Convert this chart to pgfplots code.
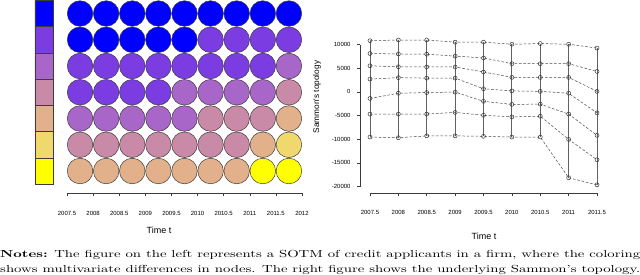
\documentclass[border=0pt]{standalone}
\usepackage{graphicx}
\usepackage{fontspec}
\usepackage{pgfplots}
\pgfplotsset{compat=1.18}
\newfontfamily\chartfont{Liberation Sans}
\definecolor{cA}{HTML}{0000FF}
\definecolor{cB}{HTML}{7B3CE2}
\definecolor{cC}{HTML}{A866C8}
\definecolor{cD}{HTML}{C98AA8}
\definecolor{cE}{HTML}{E2B08A}
\definecolor{cF}{HTML}{F0D86C}
\definecolor{cG}{HTML}{FFFF00}
\definecolor{edge}{HTML}{3C3C3C}
\begin{document}
\begin{tikzpicture}
\useasboundingbox (0,0) rectangle (640bp,-275bp);
% ---------------- left panel: SOTM ----------------
\begin{axis}[
  at={(67bp,-193bp)}, anchor=south west,
  scale only axis, width=235bp, height=192.6bp,
  xmin=2007.5, xmax=2012, ymin=0.162, ymax=7.5,
  clip=false,
  axis x line*=bottom, axis y line=none,
  axis line style={edge, line width=0.5pt},
  tick align=outside, major tick length=3bp,
  xtick={2007.5,2008,...,2012},
  xticklabels={2007.5,2008,2008.5,2009,2009.5,2010,2010.5,2011,2011.5,2012},
  xtick style={edge, line width=0.5pt},
  xticklabel style={font=\chartfont\fontsize{6}{7}\selectfont, anchor=center, yshift=-17bp},
  ytick=\empty,
]
% colour bar
\addplot[fill=cA, draw=edge, line width=0.5pt] coordinates {(2006.887,6.5)(2007.232,6.5)(2007.232,7.5)(2006.887,7.5)(2006.887,6.5)};
\addplot[fill=cB, draw=edge, line width=0.5pt] coordinates {(2006.887,5.5)(2007.232,5.5)(2007.232,6.5)(2006.887,6.5)(2006.887,5.5)};
\addplot[fill=cC, draw=edge, line width=0.5pt] coordinates {(2006.887,4.5)(2007.232,4.5)(2007.232,5.5)(2006.887,5.5)(2006.887,4.5)};
\addplot[fill=cD, draw=edge, line width=0.5pt] coordinates {(2006.887,3.5)(2007.232,3.5)(2007.232,4.5)(2006.887,4.5)(2006.887,3.5)};
\addplot[fill=cE, draw=edge, line width=0.5pt] coordinates {(2006.887,2.5)(2007.232,2.5)(2007.232,3.5)(2006.887,3.5)(2006.887,2.5)};
\addplot[fill=cF, draw=edge, line width=0.5pt] coordinates {(2006.887,1.5)(2007.232,1.5)(2007.232,2.5)(2006.887,2.5)(2006.887,1.5)};
\addplot[fill=cG, draw=edge, line width=0.5pt] coordinates {(2006.887,0.5)(2007.232,0.5)(2007.232,1.5)(2006.887,1.5)(2006.887,0.5)};
% nodes
\pgfplotsset{node/.style={only marks, mark=*, mark size=12.8bp, mark options={draw=edge, line width=0.5pt, fill=#1}}}
\addplot[node=cA] coordinates {
 (2007.75,7)(2008.25,7)(2008.75,7)(2009.25,7)(2009.75,7)(2010.25,7)(2010.75,7)(2011.25,7)(2011.75,7)
 (2007.75,6)(2008.25,6)(2008.75,6)(2009.25,6)(2009.75,6)};
\addplot[node=cB] coordinates {
 (2010.25,6)(2010.75,6)(2011.25,6)(2011.75,6)
 (2007.75,5)(2008.25,5)(2008.75,5)(2009.25,5)(2009.75,5)(2010.25,5)(2010.75,5)(2011.25,5)
 (2007.75,4)(2008.25,4)(2008.75,4)(2009.25,4)};
\addplot[node=cC] coordinates {
 (2011.75,5)
 (2009.75,4)(2010.25,4)(2010.75,4)(2011.25,4)
 (2007.75,3)(2008.25,3)(2008.75,3)(2009.25,3)(2009.75,3)};
\addplot[node=cD] coordinates {
 (2011.75,4)
 (2010.25,3)(2010.75,3)(2011.25,3)
 (2007.75,2)(2008.25,2)(2008.75,2)(2009.25,2)(2009.75,2)(2010.25,2)(2010.75,2)};
\addplot[node=cE] coordinates {
 (2011.75,3)
 (2011.25,2)
 (2007.75,1)(2008.25,1)(2008.75,1)(2009.25,1)(2009.75,1)(2010.25,1)(2010.75,1)};
\addplot[node=cF] coordinates {(2011.75,2)};
\addplot[node=cG] coordinates {(2011.25,1)(2011.75,1)};
\end{axis}
% ---------------- right panel: Sammon's topology ----------------
\begin{axis}[
  at={(360bp,-193bp)}, anchor=south west,
  scale only axis, width=247bp, height=159.1bp,
  xmin=2007.324, xmax=2011.676, ymin=-21373, ymax=12240,
  clip=false,
  axis lines*=left,
  axis line style={draw=none},
  tick align=outside, major tick length=3bp,
  tick style={edge, line width=0.5pt},
  scaled y ticks=false, scaled x ticks=false,
  xtick={2007.5,2008,...,2011.5},
  xticklabels={2007.5,2008,2008.5,2009,2009.5,2010,2010.5,2011,2011.5},
  ytick={-20000,-15000,...,10000},
  yticklabels={-20000,-15000,-10000,-5000,0,5000,10000},
  xticklabel style={font=\chartfont\fontsize{6}{7}\selectfont, anchor=center, yshift=-16.5bp},
  yticklabel style={font=\chartfont\fontsize{6}{7}\selectfont, anchor=east, xshift=-3bp},
]
\draw[edge, line width=0.5pt] (axis cs:2007.5,-21373) -- (axis cs:2011.5,-21373);
\draw[edge, line width=0.5pt] (axis cs:2007.324,-20000) -- (axis cs:2007.324,10000);
% vertical (solid) connections within each time point
\pgfplotsset{vert/.style={solid, draw=black!62, line width=0.9pt}}
\addplot[vert] coordinates {(2007.5,10800)(2007.5,-9550)};
\addplot[vert] coordinates {(2008,10950)(2008,-9700)};
\addplot[vert] coordinates {(2008.5,10950)(2008.5,-9300)};
\addplot[vert] coordinates {(2009,10500)(2009,-9300)};
\addplot[vert] coordinates {(2009.5,10500)(2009.5,-9400)};
\addplot[vert] coordinates {(2010,10050)(2010,-9550)};
\addplot[vert] coordinates {(2010.5,10200)(2010.5,-9550)};
\addplot[vert] coordinates {(2011,10050)(2011,-18150)};
\addplot[vert] coordinates {(2011.5,9250)(2011.5,-19650)};
% dashed trajectories of each node
\pgfplotsset{traj/.style={draw=black!72, line width=0.5pt, dash pattern=on 2.6bp off 1.8bp, mark=o, mark size=2bp, mark options={solid, draw=black!80, line width=0.5pt}}}
\addplot[traj] coordinates {(2007.5,10800)(2008,10950)(2008.5,10950)(2009,10500)(2009.5,10500)(2010,10050)(2010.5,10200)(2011,10050)(2011.5,9250)};
\addplot[traj] coordinates {(2007.5,8100)(2008,8000)(2008.5,7950)(2009,7550)(2009.5,7150)(2010,5950)(2010.5,5950)(2011,5950)(2011.5,4300)};
\addplot[traj] coordinates {(2007.5,5500)(2008,5300)(2008.5,5250)(2009,5250)(2009.5,4200)(2010,3050)(2010.5,3050)(2011,3050)(2011.5,100)};
\addplot[traj] coordinates {(2007.5,2700)(2008,3000)(2008.5,2900)(2009,2900)(2009.5,650)(2010,200)(2010.5,100)(2011,-300)(2011.5,-4450)};
\addplot[traj] coordinates {(2007.5,-1400)(2008,-300)(2008.5,-150)(2009,-50)(2009.5,-2000)(2010,-2650)(2010.5,-2600)(2011,-4700)(2011.5,-9200)};
\addplot[traj] coordinates {(2007.5,-4700)(2008,-4700)(2008.5,-4700)(2009,-4350)(2009.5,-4950)(2010,-5300)(2010.5,-5150)(2011,-10050)(2011.5,-14350)};
\addplot[traj] coordinates {(2007.5,-9550)(2008,-9700)(2008.5,-9300)(2009,-9300)(2009.5,-9400)(2010,-9550)(2010.5,-9550)(2011,-18150)(2011.5,-19650)};
\end{axis}
% axis titles
\node[font=\chartfont\fontsize{9}{10}\selectfont] at (159bp,-230bp) {Time t};
\node[font=\chartfont\fontsize{9}{10}\selectfont] at (484bp,-236bp) {Time t};
\node[font=\chartfont\fontsize{8.3}{10}\selectfont, rotate=90] at (317bp,-97bp) {Sammon's topology};
% caption
\node[anchor=base west, inner sep=0pt] at (0bp,-257bp) {\resizebox{640bp}{\height}{\fontsize{10.25}{12}\selectfont\textbf{Notes:} The figure on the left represents a SOTM of credit applicants in a firm, where the coloring}};
\node[anchor=base west, inner sep=0pt] at (0bp,-272bp) {\resizebox{640bp}{\height}{\fontsize{10.25}{12}\selectfont shows multivariate differences in nodes. The right figure shows the underlying Sammon's topology.}};
\end{tikzpicture}
\end{document}
